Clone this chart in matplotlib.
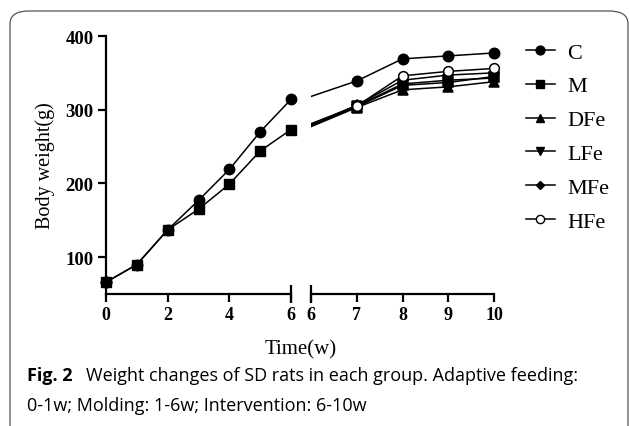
import matplotlib
matplotlib.use("Agg")
import matplotlib.pyplot as plt
from matplotlib.patches import FancyBboxPatch
from matplotlib.lines import Line2D

# ---- data ----
weeks_left = [0, 1, 2, 3, 4, 5, 6]
weeks_right = [6, 7, 8, 9, 10]
groups = ["C", "M", "DFe", "LFe", "MFe", "HFe"]
left_C = [66, 90, 137, 177, 219, 270, 314]
left_M = [66, 90, 137, 165, 199, 244, 273]
right_C = [318, 339, 369, 373, 377]
right_M = [278, 304, 333, 337, 345]
right_DFe = [277, 303, 327, 331, 338]
right_LFe = [279, 305, 335, 340, 343]
right_MFe = [280, 306, 340, 347, 350]
right_HFe = [281, 305, 346, 352, 356]
yticks = [100, 200, 300, 400]

right_vals = [right_C, right_M, right_DFe, right_LFe, right_MFe, right_HFe]
markers = {"C": "o", "M": "s", "DFe": "^", "LFe": "v", "MFe": "D", "HFe": "o"}
msizes = {"C": 7.5, "M": 7, "DFe": 7, "LFe": 7, "MFe": 5, "HFe": 7}
face = {"C": "black", "M": "black", "DFe": "black", "LFe": "black", "MFe": "black", "HFe": "white"}

serif = "Liberation Serif"
W, H = 629, 427
fig = plt.figure(figsize=(W / 100, H / 100), dpi=100)

# rounded frame
box = FancyBboxPatch((10 / W, -0.05), (618 / W), 1 - 12 / H + 0.05,
                     boxstyle="round,pad=0,rounding_size=0.03",
                     transform=fig.transFigure, fill=False, ec="#555555", lw=0.9)
fig.patches.append(box)

ax1 = fig.add_axes([106 / W, 1 - 295 / H, (291 - 106) / W, (295 - 37) / H])
ax2 = fig.add_axes([311 / W, 1 - 295 / H, (494 - 311) / W, (295 - 37) / H])

for ax in (ax1, ax2):
    ax.set_ylim(50, 400)
    for s in ("top", "right"):
        ax.spines[s].set_visible(False)
    ax.spines["bottom"].set_linewidth(1.6)
    ax.spines["left"].set_linewidth(1.6)
    ax.tick_params(direction="out", length=6, width=1.6, pad=3)

ax1.set_xlim(0, 6)
ax2.set_xlim(6, 10)
ax1.set_xticks([0, 2, 4, 6])
ax2.set_xticks([6, 7, 8, 9, 10])
ax1.set_yticks(yticks)
ax2.spines["left"].set_visible(False)
ax2.set_yticks([])

for ax in (ax1, ax2):
    for lab in ax.get_xticklabels():
        lab.set_fontfamily(serif)
        lab.set_fontweight("bold")
        lab.set_fontsize(13)
    for lab in ax.get_yticklabels():
        lab.set_fontfamily(serif)
        lab.set_fontweight("bold")
        lab.set_fontsize(13.5)

# end caps at axis break
ax1.plot([6], [50], marker="|", markersize=13, mew=1.6, color="black", clip_on=False)
ax2.plot([6], [50], marker="|", markersize=13, mew=1.6, color="black", clip_on=False)

# left panel
ax1.plot(weeks_left, left_M, color="black", lw=1.1, marker="s", ms=7, clip_on=False, zorder=3)
ax1.plot(weeks_left, left_C, color="black", lw=1.1, marker="o", ms=7.5, clip_on=False, zorder=4)
ax1.plot(weeks_left[:1], left_C[:1], color="black", marker="o", ms=7.5, clip_on=False, zorder=5)

# right panel (marker at week 6 hidden)
for g, vals in zip(groups, right_vals):
    ax2.plot(weeks_right, vals, color="black", lw=1.1)
    ax2.plot(weeks_right[1:], vals[1:], ls="none", marker=markers[g], ms=msizes[g],
             mfc=face[g], mec="black", mew=1.1, clip_on=False)

fig.text(45 / W, 1 - 166 / H, "Body weight(g)", fontfamily=serif, fontsize=14.5,
         rotation=90, ha="center", va="center")
fig.text(301 / W, 1 - 350 / H, "Time(w)", fontfamily=serif, fontsize=15,
         ha="center", va="center")

handles = [Line2D([], [], color="black", lw=1.1, marker=markers[g], ms=msizes[g] * 0.85,
                  mfc=face[g], mec="black") for g in groups]
fig.legend(handles, groups, loc="upper left", bbox_to_anchor=(526 / W, 1 - 43 / H),
           frameon=False, prop={"family": serif, "size": 16}, labelspacing=0.6,
           handlelength=1.3, handletextpad=0.55, borderaxespad=0, borderpad=0)

cap_font = "Open Sans"
fig.text(27 / W, 1 - 376 / H, "Fig. 2", fontfamily=cap_font, fontweight="bold",
         fontsize=13, va="center", ha="left")
fig.text(86 / W, 1 - 376 / H, "Weight changes of SD rats in each group. Adaptive feeding:",
         fontfamily=cap_font, fontsize=13, va="center", ha="left")
fig.text(27 / W, 1 - 406 / H, "0-1w; Molding: 1-6w; Intervention: 6-10w",
         fontfamily=cap_font, fontsize=13, va="center", ha="left")

fig.savefig("out.png", dpi=100)
